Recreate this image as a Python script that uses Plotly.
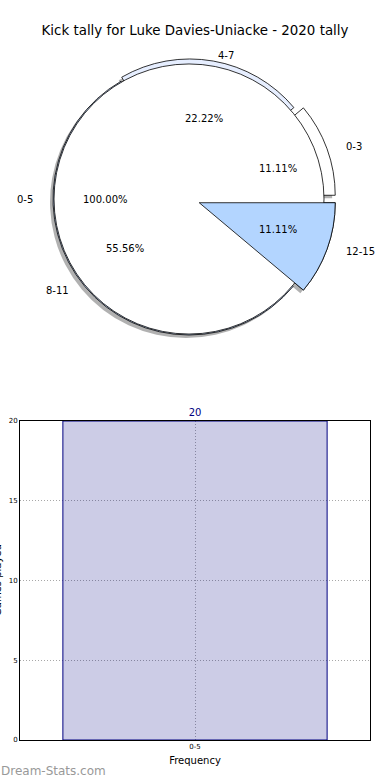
import math
import plotly.graph_objects as go

# ---------------- data ----------------
chart_title = "Kick tally for Luke Davies-Uniacke - 2020 tally"
outer_labels = ["0-3", "4-7", "8-11", "12-15"]
outer_values = [1, 2, 5, 1]
inner_labels = ["0-5"]
inner_values = [20]
bar_categories = ["0-5"]
bar_values = [20]
y_tick_values = [0, 5, 10, 15, 20]
x_title = "Frequency"
y_title = "Games played"
watermark = "Dream-Stats.com"

# ---------------- style ----------------
W, H = 390, 780
FONT = "DejaVu Sans"
outer_colors = ["#ffffff", "#e6eeff", "#c6dbff", "#b3d5ff"]
inner_colors = ["#ffffff"]
outer_pull = [0.08, 0.03, 0.0, 0.08]
CX, CY = 189, 199      # pie centre, px from top-left
R = 136                # pie radius, px
TRX, TRY = 140, 129    # text placement radii, px


def domain(cx, cy, half):
    return dict(x=[(cx - half) / W, (cx + half) / W],
                y=[(H - cy - half) / H, (H - cy + half) / H])


def pct_strings(vals):
    t = sum(vals)
    return ["%.2f%%" % (100.0 * v / t) for v in vals]


def ccw_rotation(vals):
    # plotly places the first counter-clockwise slice ending at `rotation`;
    # shift so that the first slice starts at 3 o'clock (matplotlib startangle=0)
    return 90 - 360.0 * vals[0] / sum(vals)


base = dict(sort=False, direction="counterclockwise", textinfo="none", showlegend=False)

max_pull = max(outer_pull)
outer_dom = domain(CX, CY, R * (1 + max_pull))
shadow_dom = domain(CX - 3, CY + 3, R * (1 + max_pull))
rot_outer = ccw_rotation(outer_values)

fig = go.Figure()

# shadow of outer pie
fig.add_trace(go.Pie(labels=outer_labels, values=outer_values, pull=outer_pull,
                     domain=shadow_dom, rotation=rot_outer, hoverinfo="skip",
                     marker=dict(colors=["rgba(60,60,60,0.4)"] * len(outer_values),
                                 line=dict(width=0)), **base))
# outer pie
fig.add_trace(go.Pie(labels=outer_labels, values=outer_values, pull=outer_pull,
                     domain=outer_dom, rotation=rot_outer, hoverinfo="label+percent",
                     marker=dict(colors=outer_colors, line=dict(color="#000000", width=0.8)),
                     **base))
# inner pie
fig.add_trace(go.Pie(labels=inner_labels, values=inner_values,
                     domain=domain(CX, CY, R - 1), rotation=ccw_rotation(inner_values),
                     hoverinfo="label+percent",
                     marker=dict(colors=inner_colors, line=dict(color="#000000", width=0.8)),
                     **base))
# last outer wedge drawn on top
top_colors = ["rgba(0,0,0,0)"] * (len(outer_values) - 1) + [outer_colors[-1]]
top_widths = [0] * (len(outer_values) - 1) + [0.8]
fig.add_trace(go.Pie(labels=outer_labels, values=outer_values, pull=outer_pull,
                     domain=outer_dom, rotation=rot_outer, hoverinfo="skip",
                     marker=dict(colors=top_colors, line=dict(color="#000000", width=top_widths)),
                     **base))

annotations = []


def add_pie_text(labels, values, pulls):
    total = sum(values)
    cum = 0.0
    pcts = pct_strings(values)
    for lab, v, p, pc in zip(labels, values, pulls, pcts):
        mid = math.radians((cum + v / 2.0) / total * 360.0)
        cum += v
        c, s = math.cos(mid), math.sin(mid)
        lx = CX + (p + 1.1) * TRX * c
        ly = CY - (p + 1.1) * TRY * s
        px = CX + (p + 0.6) * TRX * c
        py = CY - (p + 0.6) * TRY * s
        annotations.append(dict(text=lab, x=lx / W, y=(H - ly) / H, xref="paper", yref="paper",
                                xanchor="left" if c > 1e-9 else "right", yanchor="middle",
                                showarrow=False, font=dict(family=FONT, size=10, color="#000")))
        annotations.append(dict(text=pc, x=px / W, y=(H - py) / H, xref="paper", yref="paper",
                                xanchor="center", yanchor="middle",
                                showarrow=False, font=dict(family=FONT, size=10, color="#000")))


add_pie_text(outer_labels, outer_values, outer_pull)
add_pie_text(inner_labels, inner_values, [0.0])

# bar chart (translucent fill so the dotted grid shows through, as in the original)
fig.add_trace(go.Bar(x=bar_categories, y=bar_values, width=0.755,
                     marker=dict(color="rgba(0,0,128,0.2)", line=dict(color="#000080", width=1)),
                     text=[str(v) for v in bar_values], textposition="outside",
                     textfont=dict(family=FONT, size=10, color="#000080"),
                     cliponaxis=False, showlegend=False, xaxis="x", yaxis="y"))

annotations.append(dict(text=y_title, x=-3 / W, y=(H - 580) / H, xref="paper", yref="paper",
                        textangle=-90, xanchor="center", yanchor="middle", showarrow=False,
                        font=dict(family=FONT, size=10, color="#000")))
annotations.append(dict(text=watermark, x=-1 / W, y=(H - 771) / H, xref="paper", yref="paper",
                        xanchor="left", yanchor="middle", showarrow=False,
                        font=dict(family=FONT, size=12, color="#999999")))

GRID = dict(showgrid=True, gridcolor="#a8a8a8", griddash="1px,2px", gridwidth=1)

fig.update_layout(
    width=W, height=H,
    margin=dict(l=0, r=0, t=0, b=0),
    paper_bgcolor="#ffffff", plot_bgcolor="#ffffff",
    font=dict(family=FONT, color="#000"),
    title=dict(text=chart_title, x=0.5, xanchor="center", y=1 - 30 / H, yanchor="middle",
               xref="paper", yref="container", font=dict(family=FONT, size=13.4, color="#000")),
    xaxis=dict(domain=[20 / W, 370 / W], type="category", range=[-0.5, 0.5], **GRID,
               showline=True, linecolor="#000", linewidth=1, mirror=True,
               ticks="", tickfont=dict(family=FONT, size=7, color="#000"),
               title=dict(text=x_title, standoff=6, font=dict(family=FONT, size=10, color="#000")),
               automargin=False, fixedrange=True),
    yaxis=dict(domain=[40 / H, 359 / H], range=[0, 20], tickvals=y_tick_values, **GRID,
               zeroline=False, showline=True, linecolor="#000", linewidth=1, mirror=True,
               ticks="", tickfont=dict(family=FONT, size=7, color="#000"),
               automargin=False, fixedrange=True),
    annotations=annotations,
)

fig.write_html("out.html", config={"displayModeBar": False},
               post_script="document.body.style.margin='0';")
